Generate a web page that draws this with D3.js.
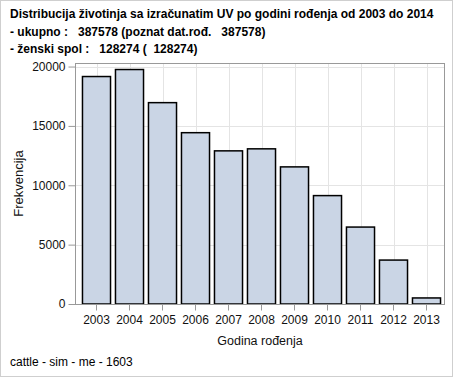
<!DOCTYPE html>
<html>
<head>
<meta charset="utf-8">
<script src="https://cdn.jsdelivr.net/npm/d3@7"></script>
<style>
  body { margin: 0; background: #fff; }
  text { font-family: "Liberation Sans", Arial, sans-serif; white-space: pre; }
</style>
</head>
<body>
<script>
// data
let years = ['2003', '2004', '2005', '2006', '2007', '2008', '2009', '2010', '2011', '2012', '2013'];
let counts = [19160, 19750, 16960, 14430, 12900, 13070, 11550, 9130, 6480, 3700, 510];
let yTicks = [0, 5000, 10000, 15000, 20000];
let titleLines = [
    'Distribucija životinja sa izračunatim UV po godini rođenja od 2003 do 2014',
    '- ukupno :   387578 (poznat dat.rođ.   387578)',
    '- ženski spol :   128274 (  128274)'
];

let W = 454, H = 378;
let frame = {left: 75, right: 444, top: 63, bottom: 304};

let svg = d3.select('body').append('svg')
    .attr('width', W)
    .attr('height', H);

// outer border
svg.append('rect')
    .attr('x', 0.5).attr('y', 0.5)
    .attr('width', 452).attr('height', 376)
    .attr('fill', '#fff')
    .attr('stroke', '#cfcfcf');

let x = d3.scaleBand()
    .domain(years)
    .range([80, 443])
    .paddingInner(0.15)
    .paddingOuter(0.075);

let y = d3.scaleLinear()
    .domain([0, 20300])
    .range([frame.bottom, frame.top]);

// gridlines
let grid = svg.append('g');
grid.selectAll('.gy')
    .data(yTicks.slice(1))
    .enter().append('line')
    .attr('x1', frame.left).attr('x2', frame.right)
    .attr('y1', d => Math.round(y(d)) + 0.5)
    .attr('y2', d => Math.round(y(d)) + 0.5)
    .attr('stroke', '#e4e4e4');
grid.selectAll('.gx')
    .data(years)
    .enter().append('line')
    .attr('x1', d => Math.round(x(d) + x.bandwidth() / 2) + 0.5)
    .attr('x2', d => Math.round(x(d) + x.bandwidth() / 2) + 0.5)
    .attr('y1', frame.top).attr('y2', frame.bottom)
    .attr('stroke', '#e4e4e4');

// bars
svg.append('g').selectAll('rect')
    .data(counts)
    .enter().append('rect')
    .attr('x', (d, i) => x(years[i]))
    .attr('y', d => y(d))
    .attr('width', x.bandwidth())
    .attr('height', d => frame.bottom - y(d))
    .attr('fill', '#cad5e5')
    .attr('stroke', '#000')
    .attr('stroke-width', 1.5);

// frame (left + bottom axis lines and top/right)
svg.append('rect')
    .attr('x', frame.left + 0.5).attr('y', frame.top + 0.5)
    .attr('width', frame.right - frame.left)
    .attr('height', frame.bottom - frame.top)
    .attr('fill', 'none')
    .attr('stroke', '#999');

// y axis
let yAxis = svg.append('g')
    .attr('transform', 'translate(' + (frame.left + 0.5) + ',0)')
    .call(d3.axisLeft(y).tickValues(yTicks).tickSize(7).tickPadding(3).tickFormat(d3.format('d')));
yAxis.select('.domain').remove();
yAxis.selectAll('line').attr('stroke', '#999');
yAxis.selectAll('text')
    .attr('font-size', 12)
    .attr('fill', '#111')
    .style('font-family', '"Liberation Sans", Arial, sans-serif');

// x axis
let xAxis = svg.append('g')
    .attr('transform', 'translate(0,' + (frame.bottom + 0.5) + ')')
    .call(d3.axisBottom(x).tickSize(6).tickPadding(5));
xAxis.select('.domain').remove();
xAxis.selectAll('line').attr('stroke', '#999');
xAxis.selectAll('text')
    .attr('font-size', 12)
    .attr('fill', '#111')
    .style('font-family', '"Liberation Sans", Arial, sans-serif');

// axis labels
svg.append('text')
    .attr('transform', 'translate(23,' + ((frame.top + frame.bottom) / 2) + ') rotate(-90)')
    .attr('text-anchor', 'middle')
    .attr('font-size', 13)
    .attr('fill', '#111')
    .text('Frekvencija');

svg.append('text')
    .attr('x', 260).attr('y', 345)
    .attr('text-anchor', 'middle')
    .attr('font-size', 12.5)
    .attr('fill', '#111')
    .text('Godina rođenja');

// title
svg.append('g').selectAll('text')
    .data(titleLines)
    .enter().append('text')
    .attr('x', 10)
    .attr('y', (d, i) => 18 + i * 17.5)
    .attr('font-size', 12)
    .attr('font-weight', 'bold')
    .attr('fill', '#000')
    .text(d => d);

// footnote
svg.append('text')
    .attr('x', 10).attr('y', 366)
    .attr('font-size', 12)
    .attr('fill', '#000')
    .text('cattle - sim - me - 1603');
</script>
</body>
</html>
